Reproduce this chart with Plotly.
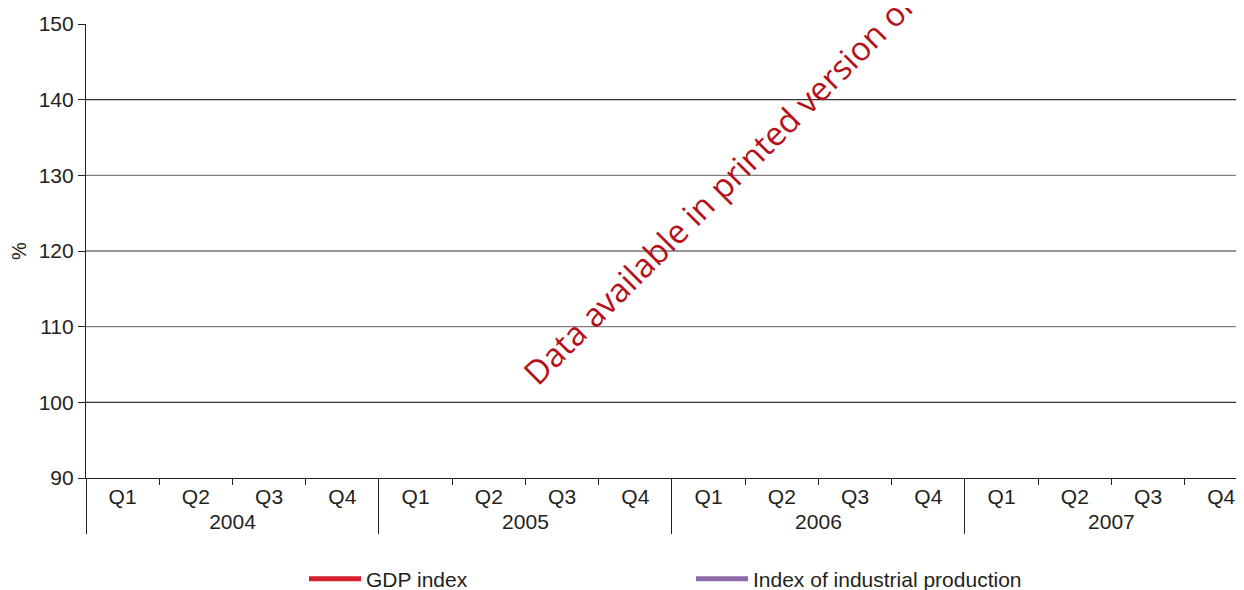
import plotly.graph_objects as go

years = ["2004", "2005", "2006", "2007"]
quarters = ["Q1", "Q2", "Q3", "Q4"]
gdp_index = [None] * 16
industrial_index = [None] * 16
y_ticks = [90, 100, 110, 120, 130, 140, 150]
grid_values = [100, 110, 120, 130, 140]
grid_colors = ["#333333", "#808080", "#333333", "#808080", "#333333"]

x_years = [y for y in years for _ in quarters]
x_quarters = [q for _ in years for q in quarters]

FONT = "Liberation Sans, Arial, sans-serif"

# page body has an 8px offset; the figure is placed so the plot lands where the reference has it
L, T, PW, PH = 78, 16, 1158, 454
W, H = L + PW, 600

fig = go.Figure()
fig.add_trace(go.Scatter(x=[x_years, x_quarters], y=gdp_index, mode="lines",
                         name="GDP index", line=dict(color="#d7202e", width=5),
                         showlegend=True))
fig.add_trace(go.Scatter(x=[x_years, x_quarters], y=industrial_index, mode="lines",
                         name="Index of industrial production",
                         line=dict(color="#8e6aa8", width=5), showlegend=True))

for v, c in zip(grid_values, grid_colors):
    fig.add_shape(type="line", xref="paper", x0=0, x1=1, yref="y", y0=v, y1=v,
                  line=dict(color=c, width=1.2), layer="below")

fig.add_annotation(text="Data available in printed version only",
                   xref="paper", yref="paper", xanchor="center", yanchor="middle",
                   x=(723 - L) / PW, y=(T + PH - 169) / PH,
                   showarrow=False, textangle=-45,
                   font=dict(family="Open Sans, sans-serif", size=33, color="#b5121b"))

fig.update_layout(
    width=W, height=H,
    margin=dict(l=L, r=0, t=T, b=H - T - PH),
    paper_bgcolor="white", plot_bgcolor="white",
    font=dict(family=FONT, size=21, color="#231f20"),
    xaxis=dict(type="multicategory", range=[-0.5, 15.31], automargin=False,
               showline=True, linecolor="#231f20", linewidth=1.2,
               ticks="outside", tickson="boundaries", ticklen=6, tickcolor="#231f20",
               showdividers=True, dividercolor="#231f20", dividerwidth=1.2,
               showgrid=False, tickfont=dict(size=21)),
    yaxis=dict(range=[90, 150], tickvals=y_ticks, showgrid=False, automargin=False,
               showline=True, linecolor="#231f20", linewidth=1.2,
               ticks="outside", ticklen=7, tickcolor="#231f20",
               zeroline=False, tickfont=dict(size=21),
               title=dict(text="%", font=dict(size=20), standoff=12)),
    legend=dict(orientation="h", x=(296 - L) / PW, xanchor="left",
                y=(T + PH - 571) / PH, yanchor="middle",
                entrywidth=320, entrywidthmode="pixels",
                font=dict(size=21), itemwidth=52),
)

fig.write_html("out.html")
